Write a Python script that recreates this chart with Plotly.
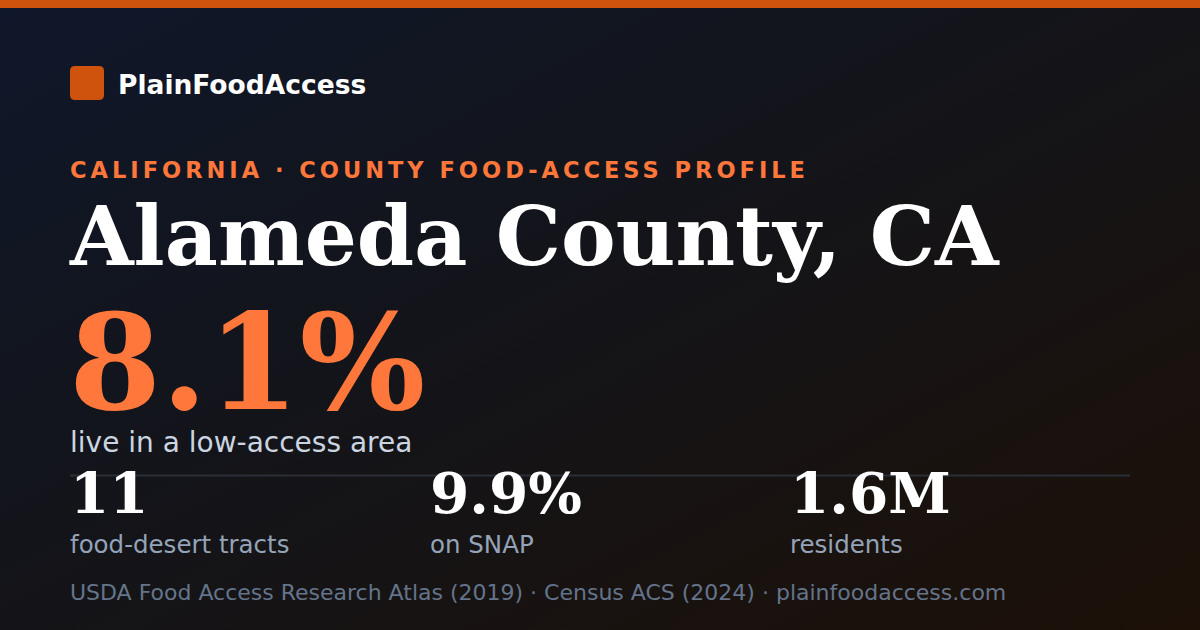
import base64
import plotly.graph_objects as go

W, H = 1200, 630

brand = "PlainFoodAccess"
kicker = "CALIFORNIA · COUNTY FOOD-ACCESS PROFILE"
county = "Alameda County, CA"
headline_value = "8.1%"
headline_label = "live in a low-access area"
stat_values = ["11", "9.9%", "1.6M"]
stat_labels = ["food-desert tracts", "on SNAP", "residents"]
source_text = "USDA Food Access Research Atlas (2019) · Census ACS (2024) · plainfoodaccess.com"

SANS = "DejaVu Sans"
SERIF = "DejaVu Serif"
ORANGE = "#ff773a"
DARK_ORANGE = "#cf520d"

# diagonal background gradient as an svg image
svg = f'''<svg xmlns="http://www.w3.org/2000/svg" width="{W}" height="{H}">
<defs><linearGradient id="g" x1="0" y1="0" x2="1" y2="1">
<stop offset="0" stop-color="#0f172a"/><stop offset="0.5" stop-color="#141418"/>
<stop offset="1" stop-color="#1c1007"/></linearGradient></defs>
<rect width="{W}" height="{H}" fill="url(#g)"/></svg>'''
bg = "data:image/svg+xml;base64," + base64.b64encode(svg.encode()).decode()

fig = go.Figure()

def text(x, y, s, size, color, family=SANS, bold=False):
    # annotations carry ~2px of padding, so pull them left
    fig.add_annotation(x=x - 2, y=y, text=s, showarrow=False, xanchor="left", yanchor="middle",
                       xref="x", yref="y",
                       font=dict(family=family, size=size, color=color,
                                 weight="bold" if bold else "normal"))

text(118, 84, brand, 26.5, "#ffffff", bold=True)
text(70, 170, f'<span style="letter-spacing:4px">{kicker}</span>', 22.5, ORANGE, bold=True)
text(69, 236, county, 82, "#ffffff", family=SERIF, bold=True)
text(69, 362, headline_value, 132.5, ORANGE, family=SERIF, bold=True)
text(70, 442, headline_label, 28, "#cbd5e1")

col_x = [70, 430, 790]
for cx, v, lab in zip(col_x, stat_values, stat_labels):
    text(cx, 493, v, 56.5, "#ffffff", family=SERIF, bold=True)
    text(cx, 544, lab, 24.5, "#94a3b8")

text(70, 592, source_text, 22, "#64748b")

# rounded logo square
r = 5
x0, x1, y0, y1 = 70, 104, 66, 100
logo = (f"M{x0+r},{y0} L{x1-r},{y0} Q{x1},{y0} {x1},{y0+r} L{x1},{y1-r} Q{x1},{y1} {x1-r},{y1} "
        f"L{x0+r},{y1} Q{x0},{y1} {x0},{y1-r} L{x0},{y0+r} Q{x0},{y0} {x0+r},{y0} Z")

shapes = [
    dict(type="rect", x0=0, x1=W, y0=0, y1=8, fillcolor=DARK_ORANGE, line_width=0, layer="below"),
    dict(type="path", path=logo, fillcolor=DARK_ORANGE, line_width=0, layer="below"),
    dict(type="line", x0=70, x1=1130, y0=475.5, y1=475.5, line=dict(color="#2a2e37", width=2), layer="below"),
]

fig.update_layout(
    width=W, height=H, margin=dict(l=0, r=0, t=0, b=0),
    paper_bgcolor="#121318", plot_bgcolor="rgba(0,0,0,0)",
    xaxis=dict(range=[0, W], visible=False, fixedrange=True),
    yaxis=dict(range=[H, 0], visible=False, fixedrange=True),
    images=[dict(source=bg, xref="paper", yref="paper", x=0, y=1, sizex=1, sizey=1,
                 xanchor="left", yanchor="top", sizing="stretch", layer="below")],
    shapes=shapes,
    showlegend=False,
)

fig.write_html("out.html", config={"displayModeBar": False},
               post_script="document.body.style.margin='0';document.body.style.overflow='hidden';")
